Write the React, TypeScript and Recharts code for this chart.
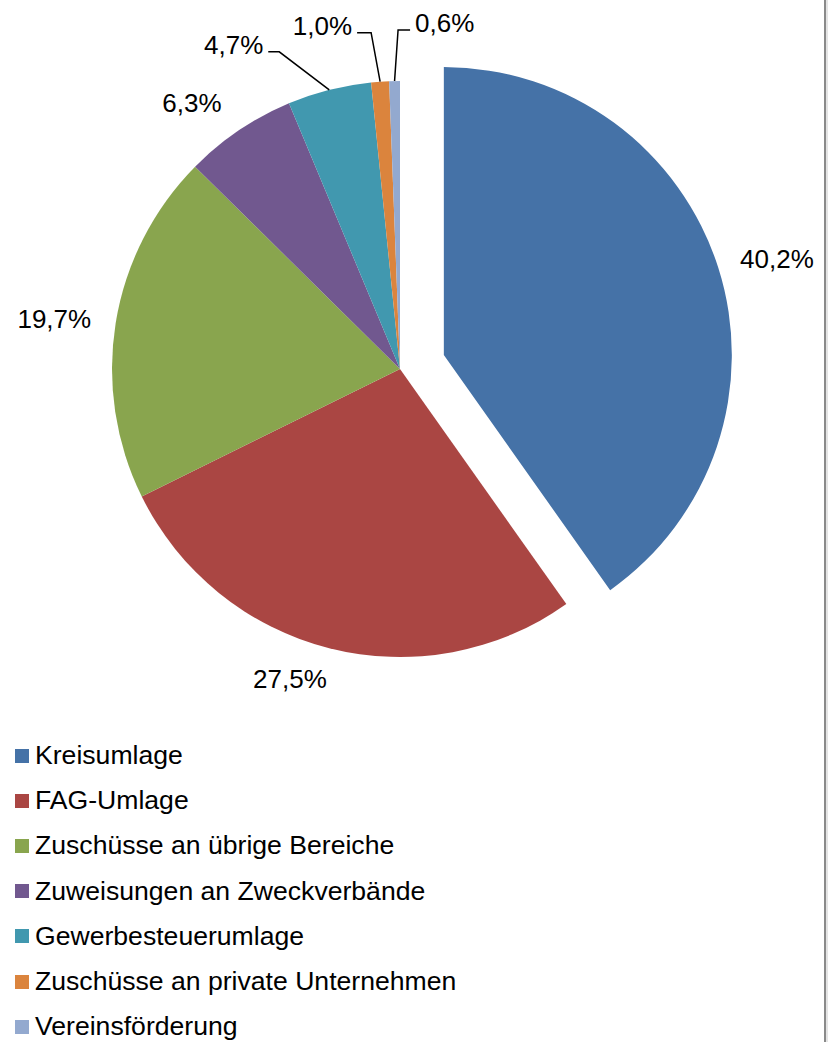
import React from "react";
import { PieChart, Pie, Cell, Sector, Legend } from "recharts";

const CATEGORIES = [
  "Kreisumlage",
  "FAG-Umlage",
  "Zuschüsse an übrige Bereiche",
  "Zuweisungen an Zweckverbände",
  "Gewerbesteuerumlage",
  "Zuschüsse an private Unternehmen",
  "Vereinsförderung",
];
const VALUES = [40.2, 27.5, 19.7, 6.3, 4.7, 1.0, 0.6];
const COLORS = ["#4572A7", "#AA4643", "#89A54E", "#71588F", "#4198AF", "#DB843D", "#93A9CF"];

const data = CATEGORIES.map((name, i) => ({ name, value: VALUES[i] }));

const FONT = "'Liberation Sans', Arial, sans-serif";
const EXPLODED = 0;
const EXPLODE_OFFSET = 46;
const LABEL_GAP = 50;

// label tweaks (Excel best-fit placement is not purely radial)
const labelNudge: Record<number, [number, number]> = {
  0: [11, 6],
  1: [-27, -18],
  2: [-12, 4],
  3: [-19, 14],
};
// leader-line labels: elbow offset from slice edge, horizontal run (signed)
const leader: Record<number, { elbow: [number, number]; run: number }> = {
  4: { elbow: [-50, -38], run: -11 },
  5: { elbow: [-9, -49], run: -14 },
  6: { elbow: [3.5, -51], run: 12 },
};

const fmt = (v: number) => v.toFixed(1).replace(".", ",") + "%";

const polar = (cx: number, cy: number, r: number, angle: number) => {
  const a = (-angle * Math.PI) / 180;
  return { x: cx + r * Math.cos(a), y: cy + r * Math.sin(a) };
};

const SliceShape = (props: any) => {
  const idx = CATEGORIES.indexOf(props.name ?? props.payload?.name);
  const off = idx === EXPLODED ? EXPLODE_OFFSET : 0;
  const c = polar(props.cx, props.cy, off, props.midAngle);
  return <Sector {...props} cx={c.x} cy={c.y} />;
};

const renderLabel = (props: any) => {
  const { cx, cy, midAngle, outerRadius, index, value } = props;
  const off = index === EXPLODED ? EXPLODE_OFFSET : 0;
  const c = polar(cx, cy, off, midAngle);
  const lead = leader[index];
  if (lead) {
    const e = polar(cx, cy, outerRadius, midAngle);
    const bx = e.x + lead.elbow[0];
    const by = e.y + lead.elbow[1];
    const ex = bx + lead.run;
    const tx = ex + Math.sign(lead.run) * 5;
    return (
      <g>
        <polyline
          points={`${e.x},${e.y} ${bx},${by} ${ex},${by}`}
          fill="none"
          stroke="#000"
          strokeWidth={1.5}
        />
        <text
          x={tx}
          y={by - 7}
          textAnchor={lead.run < 0 ? "end" : "start"}
          dominantBaseline="central"
          fontFamily={FONT}
          fontSize={26}
          fill="#000"
        >
          {fmt(value)}
        </text>
      </g>
    );
  }
  const p = polar(c.x, c.y, outerRadius + LABEL_GAP, midAngle);
  const n = labelNudge[index] ?? [0, 0];
  return (
    <text
      x={p.x + n[0]}
      y={p.y + n[1]}
      textAnchor="middle"
      dominantBaseline="central"
      fontFamily={FONT}
      fontSize={26}
      fill="#000"
    >
      {fmt(value)}
    </text>
  );
};

const LegendList = () => (
  <div style={{ fontFamily: FONT, fontSize: 26.6, color: "#000" }}>
    {CATEGORIES.map((name, i) => (
      <div
        key={name}
        style={{ display: "flex", alignItems: "center", height: 45.2, whiteSpace: "nowrap" }}
      >
        <span
          style={{ width: 14, height: 14, background: COLORS[i], marginRight: 6, flex: "none" }}
        />
        <span>{name}</span>
      </div>
    ))}
  </div>
);

export default function App() {
  return (
    <div
      style={{
        position: "absolute",
        left: 0,
        top: 0,
        width: 831,
        height: 1042,
        background: "#fff",
        overflow: "hidden",
      }}
    >
      <PieChart width={824} height={1042} margin={{ top: 0, right: 0, bottom: 0, left: 0 }}>
        <Pie
          data={data}
          dataKey="value"
          nameKey="name"
          cx={400}
          cy={369}
          outerRadius={288}
          startAngle={90}
          endAngle={-270}
          stroke="none"
          shape={SliceShape}
          label={renderLabel}
          labelLine={false}
          isAnimationActive={false}
        >
          {data.map((d, i) => (
            <Cell key={d.name} fill={COLORS[i]} />
          ))}
        </Pie>
        <Legend
          content={<LegendList />}
          wrapperStyle={{ position: "absolute", left: 15, top: 733, width: 600, bottom: "auto" }}
        />
      </PieChart>
      <div style={{ position: "absolute", left: 824, top: 0, width: 2, height: 1042, background: "#8a8a8a" }} />
      <div style={{ position: "absolute", left: 826, top: 0, width: 2, height: 1042, background: "#e4e4e4" }} />
    </div>
  );
}
